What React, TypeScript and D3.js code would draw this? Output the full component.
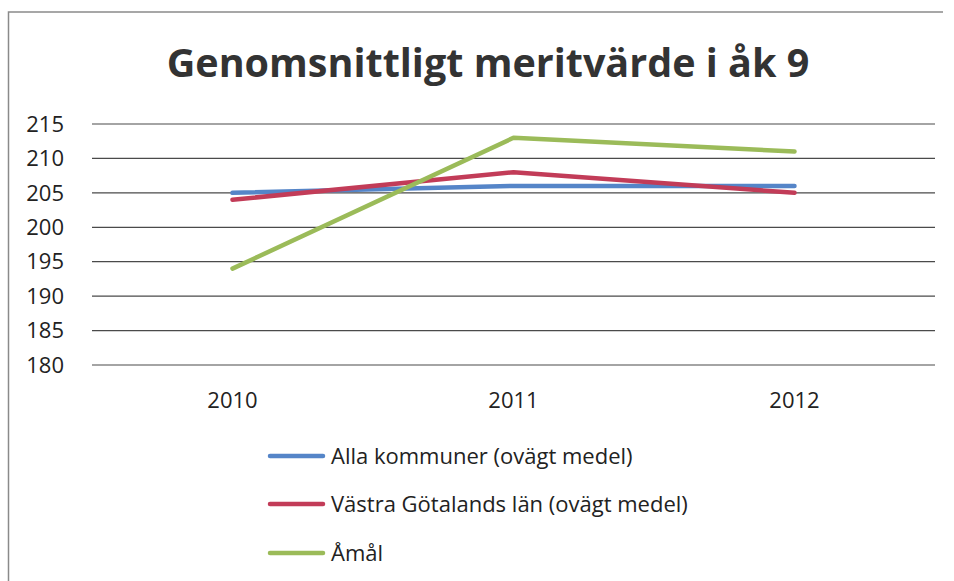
import { scaleLinear, scalePoint, line as d3Line } from "d3";

const years = ["2010", "2011", "2012"];
const yTickValues = [180, 185, 190, 195, 200, 205, 210, 215];
const allaKommuner = [205, 206, 206];
const vastraGotaland = [204, 208, 205];
const amal = [194, 213, 211];

const seriesList = [
  { name: "Alla kommuner (ovägt medel)", values: allaKommuner, color: "#5585c8" },
  { name: "Västra Götalands län (ovägt medel)", values: vastraGotaland, color: "#c23c58" },
  { name: "Åmål", values: amal, color: "#9bbb59" },
];

const width = 954;
const height = 581;
const plot = { left: 92, right: 935, top: 124, bottom: 365 };
const font = "'Open Sans', 'Noto Sans', sans-serif";

export default function App() {
  const xScale = scalePoint<string>()
    .domain(years)
    .range([plot.left, plot.right])
    .padding(0.5);
  const yScale = scaleLinear().domain([180, 215]).range([plot.bottom, plot.top]);

  const lineGen = d3Line<number>()
    .x((_, i) => xScale(years[i]) ?? 0)
    .y((d) => yScale(d));

  const legendY = [456, 504, 553];

  return (
    <svg
      width={width}
      height={height}
      viewBox={`0 0 ${width} ${height}`}
      style={{ position: "absolute", left: 0, top: 0, background: "#fff" }}
    >
      <rect x={0} y={0} width={width} height={height} fill="#fff" />
      {/* chart frame, right and bottom edge fall outside the scan */}
      <path d={`M8.5,${height} V12 H943`} fill="none" stroke="#8a8a8a" strokeWidth={1.5} />

      <text
        x={488}
        y={77}
        textAnchor="middle"
        fontFamily={font}
        fontWeight={700}
        fontSize={39.5}
        fill="#333"
      >
        Genomsnittligt meritvärde i åk 9
      </text>

      {yTickValues.map((tick) => (
        <g key={`y-${tick}`}>
          <line
            x1={plot.left}
            x2={plot.right}
            y1={yScale(tick)}
            y2={yScale(tick)}
            stroke="#4a4a4a"
            strokeWidth={1.2}
          />
          <text
            x={64}
            y={yScale(tick)}
            dy="0.35em"
            textAnchor="end"
            fontFamily={font}
            fontSize={22}
            fill="#222"
          >
            {tick}
          </text>
        </g>
      ))}

      {years.map((year) => (
        <text
          key={`x-${year}`}
          x={xScale(year)}
          y={408}
          textAnchor="middle"
          fontFamily={font}
          fontSize={22}
          fill="#222"
        >
          {year}
        </text>
      ))}

      {seriesList.map((s) => (
        <path
          key={s.name}
          d={lineGen(s.values) ?? ""}
          fill="none"
          stroke={s.color}
          strokeWidth={4.5}
          strokeLinejoin="round"
          strokeLinecap="round"
        />
      ))}

      {seriesList.map((s, i) => (
        <g key={`legend-${s.name}`} transform={`translate(0, ${legendY[i]})`}>
          <line x1={270} x2={323} y1={0} y2={0} stroke={s.color} strokeWidth={4.5} strokeLinecap="round" />
          <text x={331} y={0} dy="0.35em" fontFamily={font} fontSize={22} fill="#222">
            {s.name}
          </text>
        </g>
      ))}
    </svg>
  );
}
